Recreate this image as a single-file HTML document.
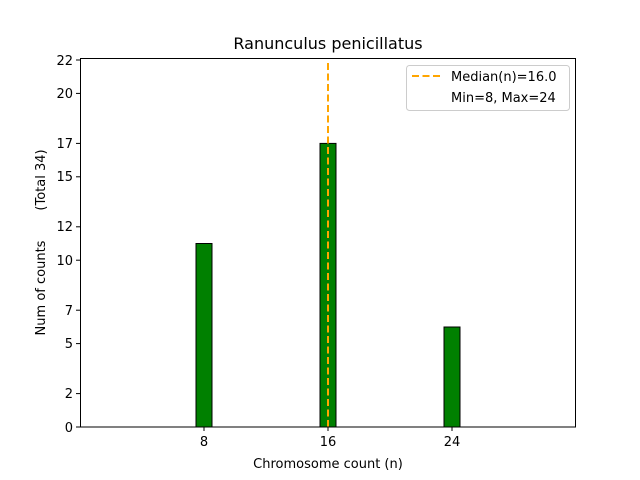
<!DOCTYPE html>
<html><head><style>body{margin:0;background:#fff}svg{display:block}</style></head><body>
<svg width="640" height="480" xmlns="http://www.w3.org/2000/svg" font-family="DejaVu Sans, Liberation Sans, sans-serif">
<rect width="640" height="480" fill="#fff"/>
<text x="328" y="49" font-size="16" text-anchor="middle">Ranunculus penicillatus</text>
<line x1="90" y1="427" x2="506" y2="427" stroke="#555" stroke-width="1"/>
<g fill="#008000" stroke="#000" stroke-width="1">
<rect x="196" y="243.5" width="16" height="183.5"/>
<rect x="320" y="143.4" width="16" height="283.6"/>
<rect x="444" y="327" width="16" height="100"/>
</g>
<line x1="328" y1="427" x2="328" y2="60" stroke="#FFA500" stroke-width="2" stroke-dasharray="7,3.5"/>
<rect x="80.5" y="58.5" width="495" height="368.5" fill="none" stroke="#000" stroke-width="1"/>
<g stroke="#000" stroke-width="1">
<line x1="204" y1="427" x2="204" y2="431"/><line x1="328" y1="427" x2="328" y2="431"/><line x1="452" y1="427" x2="452" y2="431"/>
<line x1="76" y1="427" x2="80" y2="427"/><line x1="76" y1="393.6" x2="80" y2="393.6"/><line x1="76" y1="343.6" x2="80" y2="343.6"/><line x1="76" y1="310.2" x2="80" y2="310.2"/><line x1="76" y1="260.2" x2="80" y2="260.2"/><line x1="76" y1="226.8" x2="80" y2="226.8"/><line x1="76" y1="176.8" x2="80" y2="176.8"/><line x1="76" y1="143.4" x2="80" y2="143.4"/><line x1="76" y1="93.4" x2="80" y2="93.4"/><line x1="76" y1="60" x2="80" y2="60"/>
</g>
<g font-size="13" text-anchor="middle">
<text x="204" y="446">8</text><text x="328" y="446">16</text><text x="452" y="446">24</text>
<text x="328" y="468">Chromosome count (n)</text>
</g>
<g font-size="13" text-anchor="end">
<text x="73" y="432">0</text><text x="73" y="398">2</text><text x="73" y="348">5</text><text x="73" y="315">7</text><text x="73" y="265">10</text><text x="73" y="231">12</text><text x="73" y="181">15</text><text x="73" y="148">17</text><text x="73" y="98">20</text><text x="73" y="65">22</text>
</g>
<text transform="translate(45,288) rotate(-90)" font-size="13" text-anchor="middle">Num of counts</text>
<text transform="translate(45,180) rotate(-90)" font-size="13" text-anchor="middle">(Total 34)</text>
<rect x="406.5" y="65.5" width="163" height="45" rx="3" fill="#fff" stroke="#ccc"/>
<line x1="412" y1="76" x2="440" y2="76" stroke="#FFA500" stroke-width="2" stroke-dasharray="7,3.5"/>
<text x="451" y="81" font-size="13">Median(n)=16.0</text>
<text x="451" y="102" font-size="13">Min=8, Max=24</text>
</svg>
</body></html>
